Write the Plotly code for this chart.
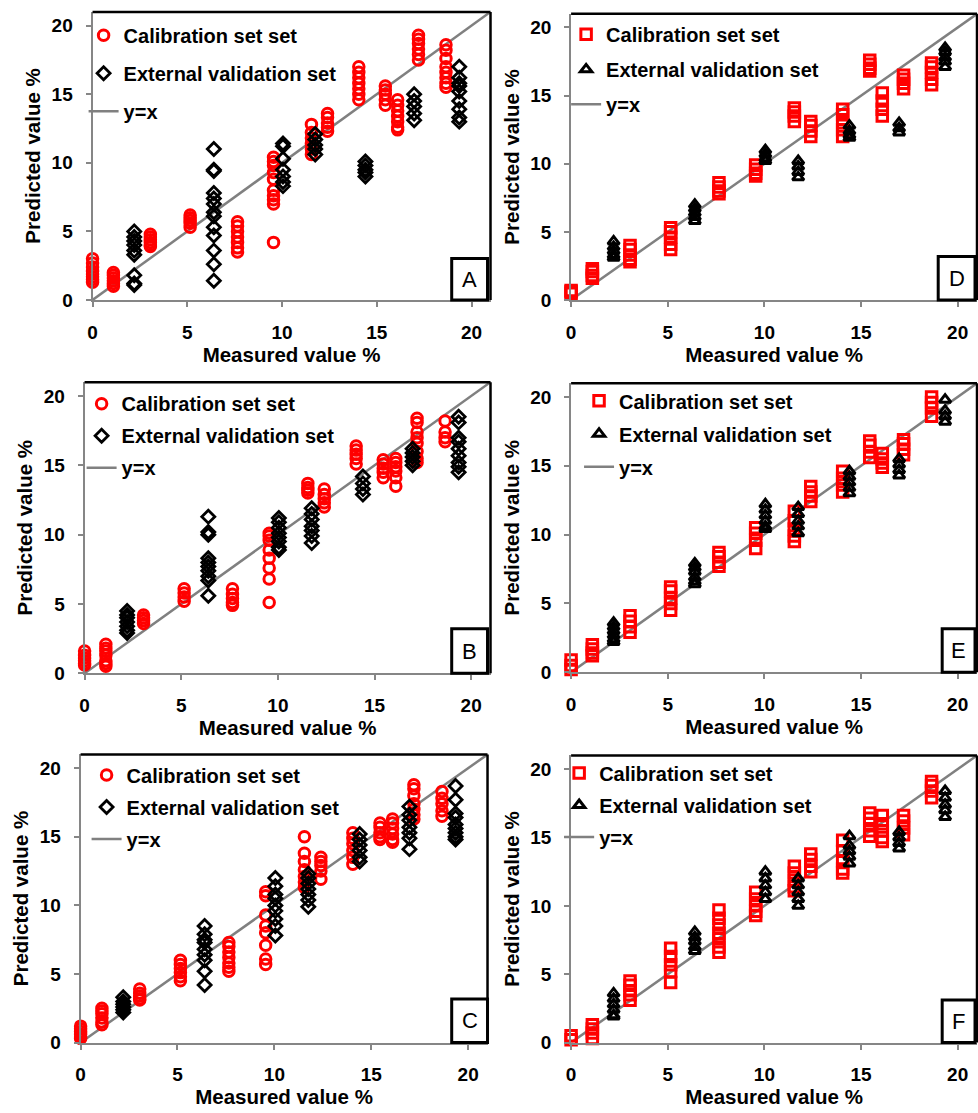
import plotly.graph_objects as go

W, H = 978, 1113

# ---------------- data ----------------
cal_x = [0, 1.1, 3.05, 5.15, 7.65, 9.55, 11.55, 12.4, 14.05, 15.45, 16.1, 17.2, 18.65]
val_x = [2.2, 6.4, 10.05, 11.75, 14.4, 16.97, 19.35]
ticks = [0, 5, 10, 15, 20]

A_cal = [[3.0, 2.7, 2.4, 2.1, 1.9, 1.7, 1.5, 1.3], [2.0, 1.8, 1.6, 1.4, 1.2, 1.0],
         [4.8, 4.6, 4.4, 4.2, 4.0, 3.9], [6.2, 6.0, 5.8, 5.6, 5.3],
         [5.7, 5.4, 5.0, 4.6, 4.2, 3.8, 3.5], [10.4, 10.1, 9.8, 9.3, 8.8, 8.0, 7.6, 7.3, 7.0, 4.2],
         [12.8, 12.2, 11.8, 11.4, 11.0, 10.6], [13.6, 13.3, 12.9, 12.6, 12.3],
         [17.0, 16.6, 16.2, 15.8, 15.4, 15.0, 14.6], [15.6, 15.3, 15.0, 14.6, 14.2],
         [14.6, 14.2, 13.8, 13.4, 13.0, 12.6, 12.4], [19.3, 19.0, 18.7, 18.3, 17.9, 17.5],
         [18.6, 18.2, 17.6, 17.0, 16.6, 16.2, 15.8, 15.5]]
A_val = [[5.0, 4.6, 4.3, 4.0, 3.6, 3.3, 1.8, 1.2, 1.1],
         [11.0, 9.5, 9.4, 7.8, 7.4, 7.0, 6.4, 6.1, 5.3, 4.7, 3.6, 2.6, 1.4],
         [11.4, 11.2, 10.3, 9.5, 9.0, 8.6, 8.3], [12.1, 11.7, 11.3, 11.0, 10.6],
         [10.1, 9.8, 9.5, 9.3, 9.0], [15.0, 14.5, 14.1, 13.6, 13.1],
         [17.0, 16.2, 15.8, 15.6, 15.2, 14.5, 13.9, 13.3, 13.0]]

B_cal = [[1.6, 1.3, 1.1, 0.9, 0.7, 0.6], [2.1, 1.8, 1.6, 1.3, 0.9, 0.7, 0.5],
         [4.2, 4.0, 3.8, 3.6], [6.1, 5.8, 5.5, 5.2], [6.1, 5.7, 5.4, 5.1, 4.9],
         [10.1, 9.9, 9.6, 8.9, 8.3, 7.6, 6.8, 5.1], [13.7, 13.4, 13.2, 13.0],
         [13.3, 12.9, 12.6, 12.3, 12.0], [16.4, 16.1, 15.8, 15.5, 15.1],
         [15.4, 15.1, 14.8, 14.5, 14.1], [15.5, 15.2, 14.9, 14.6, 14.1, 13.5],
         [18.4, 18.1, 17.4, 17.0, 16.6, 16.0, 15.5, 15.2], [18.2, 17.4, 17.0, 16.7]]
B_val = [[4.5, 4.2, 4.0, 3.7, 3.4, 3.1, 2.9],
         [11.3, 10.2, 10.0, 8.3, 8.0, 7.7, 7.4, 7.0, 6.7, 5.6],
         [11.2, 10.9, 10.5, 10.1, 9.8, 9.5, 9.1, 8.9], [11.9, 11.5, 11.1, 10.6, 10.3, 9.9, 9.4],
         [14.2, 13.7, 13.3, 12.9], [16.2, 15.9, 15.6, 15.3, 15.0],
         [18.5, 18.1, 17.0, 16.7, 16.2, 15.7, 15.2, 14.9, 14.5]]

C_cal = [[1.2, 1.0, 0.8, 0.6, 0.4, 0.3], [2.5, 2.3, 2.1, 1.8, 1.5, 1.3],
         [3.9, 3.6, 3.4, 3.2, 3.1], [6.0, 5.7, 5.4, 5.1, 4.8, 4.5],
         [7.3, 7.0, 6.6, 6.2, 5.8, 5.5, 5.2], [11.0, 10.7, 9.3, 8.5, 8.0, 7.1, 6.1, 5.7],
         [15.0, 13.8, 13.2, 12.6, 12.1, 11.7, 11.3], [13.5, 13.2, 12.9, 12.5, 11.9],
         [15.3, 14.9, 14.5, 14.0, 13.5, 13.0], [16.0, 15.7, 15.3, 15.0, 14.8],
         [16.3, 16.0, 15.6, 15.2, 14.8, 14.6], [18.8, 18.5, 18.0, 17.4, 17.0, 16.6, 16.3],
         [18.3, 17.8, 17.4, 16.9, 16.5]]
C_val = [[3.3, 3.0, 2.8, 2.6, 2.4, 2.2], [8.5, 7.9, 7.5, 7.3, 6.8, 6.4, 6.0, 5.2, 4.2],
         [12.0, 11.4, 10.8, 10.5, 10.0, 9.6, 9.0, 8.5, 7.8],
         [12.3, 12.0, 11.6, 11.2, 10.8, 10.4, 9.9], [15.2, 14.8, 14.4, 14.0, 13.5, 13.2],
         [17.2, 16.6, 16.2, 15.7, 15.3, 14.9, 14.1],
         [18.7, 17.7, 16.7, 16.4, 15.9, 15.6, 15.3, 15.0, 14.8]]

D_cal = [[0.7, 0.6, 0.5], [2.3, 2.1, 1.8, 1.6], [4.0, 3.7, 3.3, 3.0, 2.8],
         [5.3, 5.0, 4.6, 4.1, 3.7], [8.6, 8.3, 8.0, 7.8], [9.9, 9.6, 9.3, 9.1],
         [14.1, 13.8, 13.5, 13.1], [13.1, 12.8, 12.4, 12.0], [14.0, 13.6, 13.0, 12.5, 12.0],
         [17.6, 17.3, 17.0, 16.8], [15.2, 14.6, 14.0, 13.5], [16.5, 16.2, 15.9, 15.5],
         [17.4, 17.1, 16.7, 16.2, 15.8]]
D_val = [[4.3, 3.9, 3.6, 3.3, 3.1], [7.0, 6.7, 6.4, 6.1, 5.8], [11.0, 10.7, 10.4, 10.2],
         [10.2, 9.8, 9.4, 9.0], [12.8, 12.4, 12.1, 11.9], [13.0, 12.6, 12.3],
         [18.5, 18.2, 17.8, 17.5, 17.1]]

E_cal = [[0.9, 0.5, 0.2], [2.0, 1.7, 1.4, 1.2], [4.1, 3.7, 3.3, 2.9],
         [6.2, 5.9, 5.4, 5.0, 4.5], [8.7, 8.4, 8.0, 7.7], [10.5, 10.1, 9.6, 9.0],
         [11.7, 11.0, 10.4, 9.9, 9.5], [13.5, 13.1, 12.8, 12.4], [14.6, 14.1, 13.6, 13.1],
         [16.8, 16.5, 16.0, 15.6], [15.9, 15.5, 15.2, 14.9], [16.9, 16.6, 16.2, 15.8],
         [20.0, 19.6, 19.2, 18.6]]
E_val = [[3.6, 3.3, 3.0, 2.7, 2.4, 2.2], [7.9, 7.6, 7.3, 6.9, 6.6, 6.4],
         [12.2, 11.8, 11.4, 11.0, 10.6, 10.4], [12.0, 11.5, 11.0, 10.6, 10.1],
         [14.6, 14.2, 13.8, 13.4, 13.0], [15.5, 15.1, 14.7, 14.3], [19.8, 19.0, 18.6, 18.2]]

F_cal = [[0.5, 0.2], [1.3, 1.0, 0.7, 0.3], [4.5, 4.2, 3.8, 3.5, 3.1],
         [6.9, 6.3, 5.7, 5.2, 4.4], [9.7, 9.1, 8.6, 8.0, 7.6, 7.0, 6.6],
         [11.0, 10.5, 10.0, 9.6, 9.3], [12.9, 12.4, 11.9, 11.4, 11.1],
         [13.8, 13.4, 12.9, 12.5], [14.8, 14.0, 13.3, 12.7, 12.4],
         [16.8, 16.4, 16.0, 15.5, 15.1], [16.6, 16.0, 15.5, 15.0, 14.7],
         [16.6, 16.2, 15.7, 15.2], [19.1, 18.8, 18.4, 17.9]]
F_val = [[3.6, 3.2, 2.8, 2.4, 2.0, 1.9], [8.1, 7.7, 7.4, 7.0, 6.7],
         [12.5, 12.0, 11.5, 11.0, 10.5], [12.0, 11.5, 11.0, 10.5, 10.0],
         [15.1, 14.4, 14.0, 13.6, 13.1], [15.4, 15.0, 14.6, 14.2],
         [18.4, 17.9, 17.4, 17.0, 16.5]]

line_xy = [0, 21]
names = ["Calibration set set", "External validation set", "y=x"]

# ---------------- layout (pixel geometry) ----------------
panels = [
    ("A", A_cal, A_val, "circle-open", "diamond-open", (88, 488, 12, 303), (449, 485, 261, 303), (2, 24, 38)),
    ("D", D_cal, D_val, "square-open", "triangle-up-open", (569, 977, 14, 303), (938, 975, 259, 303), (6, 21, 35)),
    ("B", B_cal, B_val, "circle-open", "diamond-open", (80, 488, 386, 680), (449, 485, 635, 680), (8, 22, 32)),
    ("E", E_cal, E_val, "square-open", "triangle-up-open", (569, 977, 387, 679), (942, 975, 635, 679), (19, 18, 33)),
    ("C", C_cal, C_val, "circle-open", "diamond-open", (76, 485, 762, 1053), (449, 485, 1009, 1053), (17, 21, 32)),
    ("F", F_cal, F_val, "square-open", "triangle-up-open", (569, 977, 763, 1053), (942, 975, 1010, 1053), (-1, 18, 32)),
]

FONT = "Liberation Sans, Arial, sans-serif"
RED = "#FF0000"
GRAY = "#868686"

def px(v):
    return v / W

def py(v):
    return 1 - v / H

fig = go.Figure()
layout = dict(width=W, height=H, margin=dict(l=0, r=0, t=0, b=0),
              paper_bgcolor="white", plot_bgcolor="white", showlegend=True,
              font=dict(family=FONT, color="black"))
shapes = []
annotations = []

for i, (lab, cal, val, csym, vsym, box, lbox, leg) in enumerate(panels):
    k = "" if i == 0 else str(i + 1)
    xa, ya = "x" + k, "y" + k
    lg = "legend" + k
    cx = [cal_x[j] for j, g in enumerate(cal) for _ in g]
    cy = [v for g in cal for v in g]
    vx = [val_x[j] for j, g in enumerate(val) for _ in g]
    vy = [v for g in val for v in g]
    is_circ = csym.startswith("circle")

    fig.add_trace(go.Scatter(x=line_xy, y=line_xy, mode="lines", name=names[2],
                             line=dict(color="#808080", width=2.5), xaxis=xa, yaxis=ya,
                             legend=lg, legendgroup=lab + "3", legendrank=3,
                             hoverinfo="skip"))
    fig.add_trace(go.Scatter(x=cx, y=cy, mode="markers", name=names[0], xaxis=xa, yaxis=ya,
                             marker=dict(symbol=csym, size=10.5, color=RED,
                                         line=dict(width=3, color=RED)),
                             legend=lg, legendgroup=lab + "1", legendrank=1, cliponaxis=False))
    fig.add_trace(go.Scatter(x=vx, y=vy, mode="markers", name=names[1], xaxis=xa, yaxis=ya,
                             marker=dict(symbol=vsym, size=10, color="black",
                                         line=dict(width=2.8 if is_circ else 3, color="black")),
                             legend=lg, legendgroup=lab + "2", legendrank=2, cliponaxis=False))

    l, r, t, b = box
    axcommon = dict(range=[0, 21], tickvals=ticks, ticks="outside", ticklen=5, tickwidth=1.5,
                    tickcolor=GRAY, showline=True, linecolor=GRAY, linewidth=2,
                    showgrid=False, zeroline=False,
                    tickfont=dict(family=FONT, size=19, color="black", weight="bold"))
    layout["xaxis" + k] = dict(axcommon, domain=[px(l), px(r)], anchor=ya,
                               ticklabelstandoff=9,
                               title=dict(text="Measured value %", standoff=4,
                                          font=dict(family=FONT, size=20.5, weight="bold")))
    layout["yaxis" + k] = dict(axcommon, domain=[py(b), py(t)], anchor=xa,
                               ticklabelstandoff=9,
                               title=dict(text="Predicted value %", standoff=5,
                                          font=dict(family=FONT, size=20.5, weight="bold")))
    shapes.append(dict(type="line", xref="paper", yref="paper", x0=px(l), x1=px(r), y0=py(t), y1=py(t),
                       line=dict(color="black", width=2.5)))
    shapes.append(dict(type="line", xref="paper", yref="paper", x0=px(r), x1=px(r), y0=py(t), y1=py(b),
                       line=dict(color="black", width=2.5)))
    bl, br, bt, bb = lbox
    shapes.append(dict(type="rect", xref="paper", yref="paper", x0=px(bl), x1=px(br), y0=py(bb), y1=py(bt),
                       line=dict(color="black", width=3), fillcolor="white", layer="above"))
    annotations.append(dict(xref="paper", yref="paper", x=px((bl + br) / 2), y=py((bt + bb) / 2),
                            text=lab, showarrow=False, xanchor="center", yanchor="middle",
                            font=dict(family=FONT, size=22, color="black")))
    ls, r1, sp = leg
    layout[lg] = dict(x=px(l + ls - 11), y=py(t + r1 - 20), xanchor="left", yanchor="top",
                      bgcolor="rgba(0,0,0,0)", borderwidth=0, traceorder="grouped",
                      tracegroupgap=max(sp - 29, 0), itemsizing="trace",
                      font=dict(family=FONT, size=20, color="black", weight="bold"))

layout["shapes"] = shapes
layout["annotations"] = annotations
fig.update_layout(**layout)
fig.write_html("out.html", config={"displayModeBar": False},
               post_script="document.body.style.margin='0';document.body.style.overflow='hidden';")
